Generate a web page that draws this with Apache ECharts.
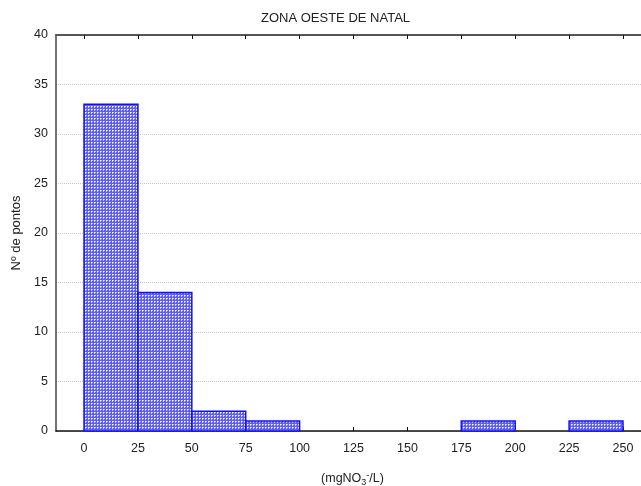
<!DOCTYPE html>
<html>
<head>
<meta charset="utf-8">
<script src="https://cdn.jsdelivr.net/npm/echarts@6/dist/echarts.min.js"></script>
<style>
html,body{margin:0;padding:0;background:#fff;}
#chart{width:641px;height:486px;}
</style>
</head>
<body>
<div id="chart"></div>
<script>
// Data
const binStarts = [0, 25, 50, 75, 100, 125, 150, 175, 200, 225];
const binEnds   = [25, 50, 75, 100, 125, 150, 175, 200, 225, 250];
const counts    = [33, 14, 2, 1, 0, 0, 0, 1, 0, 1];
const xTickValues = [0, 25, 50, 75, 100, 125, 150, 175, 200, 225, 250];
const titleText = 'ZONA OESTE DE NATAL';
const yName = 'Nº de pontos';

// Dotted fill pattern
const pc = document.createElement('canvas');
pc.width = 3; pc.height = 3;
const pctx = pc.getContext('2d');
pctx.fillStyle = '#5c5cff';
pctx.fillRect(0, 0, 3, 3);
pctx.fillStyle = '#ffffff';
pctx.fillRect(1, 1, 1, 1);
pctx.fillStyle = '#c0c0ff';
pctx.fillRect(2, 1, 1, 1);
pctx.fillRect(1, 2, 1, 1);
const pattern = { image: pc, repeat: 'repeat' };

const seriesData = binStarts.map((s, i) => [s, binEnds[i], counts[i]]);

const chart = echarts.init(document.getElementById('chart'));
const font = 'Liberation Sans, Arial, sans-serif';
chart.setOption({
  animation: false,
  backgroundColor: '#fff',
  title: {
    text: titleText,
    left: 256, top: 7,
    textStyle: { fontSize: 13, fontWeight: 'normal', color: '#222', fontFamily: font }
  },
  grid: { left: 56, right: 0, top: 35, bottom: 55, outerBoundsMode: 'none', containLabel: false },
  xAxis: [{
    type: 'value', position: 'bottom',
    min: -13, max: 258.35,
    axisLine: { show: true, onZero: false, lineStyle: { color: '#111', width: 1.5 } },
    axisTick: { show: true, inside: true, length: 4, customValues: xTickValues, lineStyle: { color: '#111' } },
    axisLabel: { customValues: xTickValues, color: '#222', fontSize: 12.5, margin: 11, fontFamily: font },
    splitLine: { show: false },
    name: '{p|(mgNO}{sub|3}{sup|-}{p|/L)}',
    nameLocation: 'middle', nameGap: 40,
    nameTextStyle: {
      padding: [0, 0, 0, 8],
      rich: {
        p: { fontSize: 12.5, color: '#222', fontFamily: font, lineHeight: 16 },
        sub: { fontSize: 9, color: '#222', fontFamily: font, verticalAlign: 'bottom', lineHeight: 10 },
        sup: { fontSize: 9, color: '#222', fontFamily: font, verticalAlign: 'top', lineHeight: 10 }
      }
    }
  }, {
    type: 'value', position: 'top',
    min: -13, max: 258.35,
    axisLine: { show: true, onZero: false, lineStyle: { color: '#555', width: 2 } },
    axisTick: { show: true, inside: true, length: 4, customValues: xTickValues, lineStyle: { color: '#111' } },
    axisLabel: { show: false },
    splitLine: { show: false }
  }],
  yAxis: {
    type: 'value', min: 0, max: 40, interval: 5,
    axisLine: { show: true, onZero: false, lineStyle: { color: '#444', width: 1.5 } },
    axisTick: { show: false },
    axisLabel: { color: '#222', fontSize: 12.5, margin: 8, fontFamily: font },
    splitLine: { show: true, lineStyle: { color: '#c8c8c8', type: [1, 1], width: 1 } },
    name: yName, nameLocation: 'middle', nameGap: 31,
    nameTextStyle: { fontSize: 13, color: '#222', fontFamily: font }
  },
  series: [{
    type: 'custom',
    xAxisIndex: 0,
    data: seriesData,
    encode: { x: [0, 1], y: 2 },
    renderItem: function (params, api) {
      const v = api.value(2);
      if (!v) return null;
      const p0 = api.coord([api.value(0), v]);
      const p1 = api.coord([api.value(1), 0]);
      return {
        type: 'rect',
        shape: { x: p0[0], y: p0[1], width: p1[0] - p0[0], height: p1[1] - p0[1] },
        style: { fill: pattern, stroke: '#1010ff', lineWidth: 1.5 }
      };
    }
  }]
});
</script>
</body>
</html>
